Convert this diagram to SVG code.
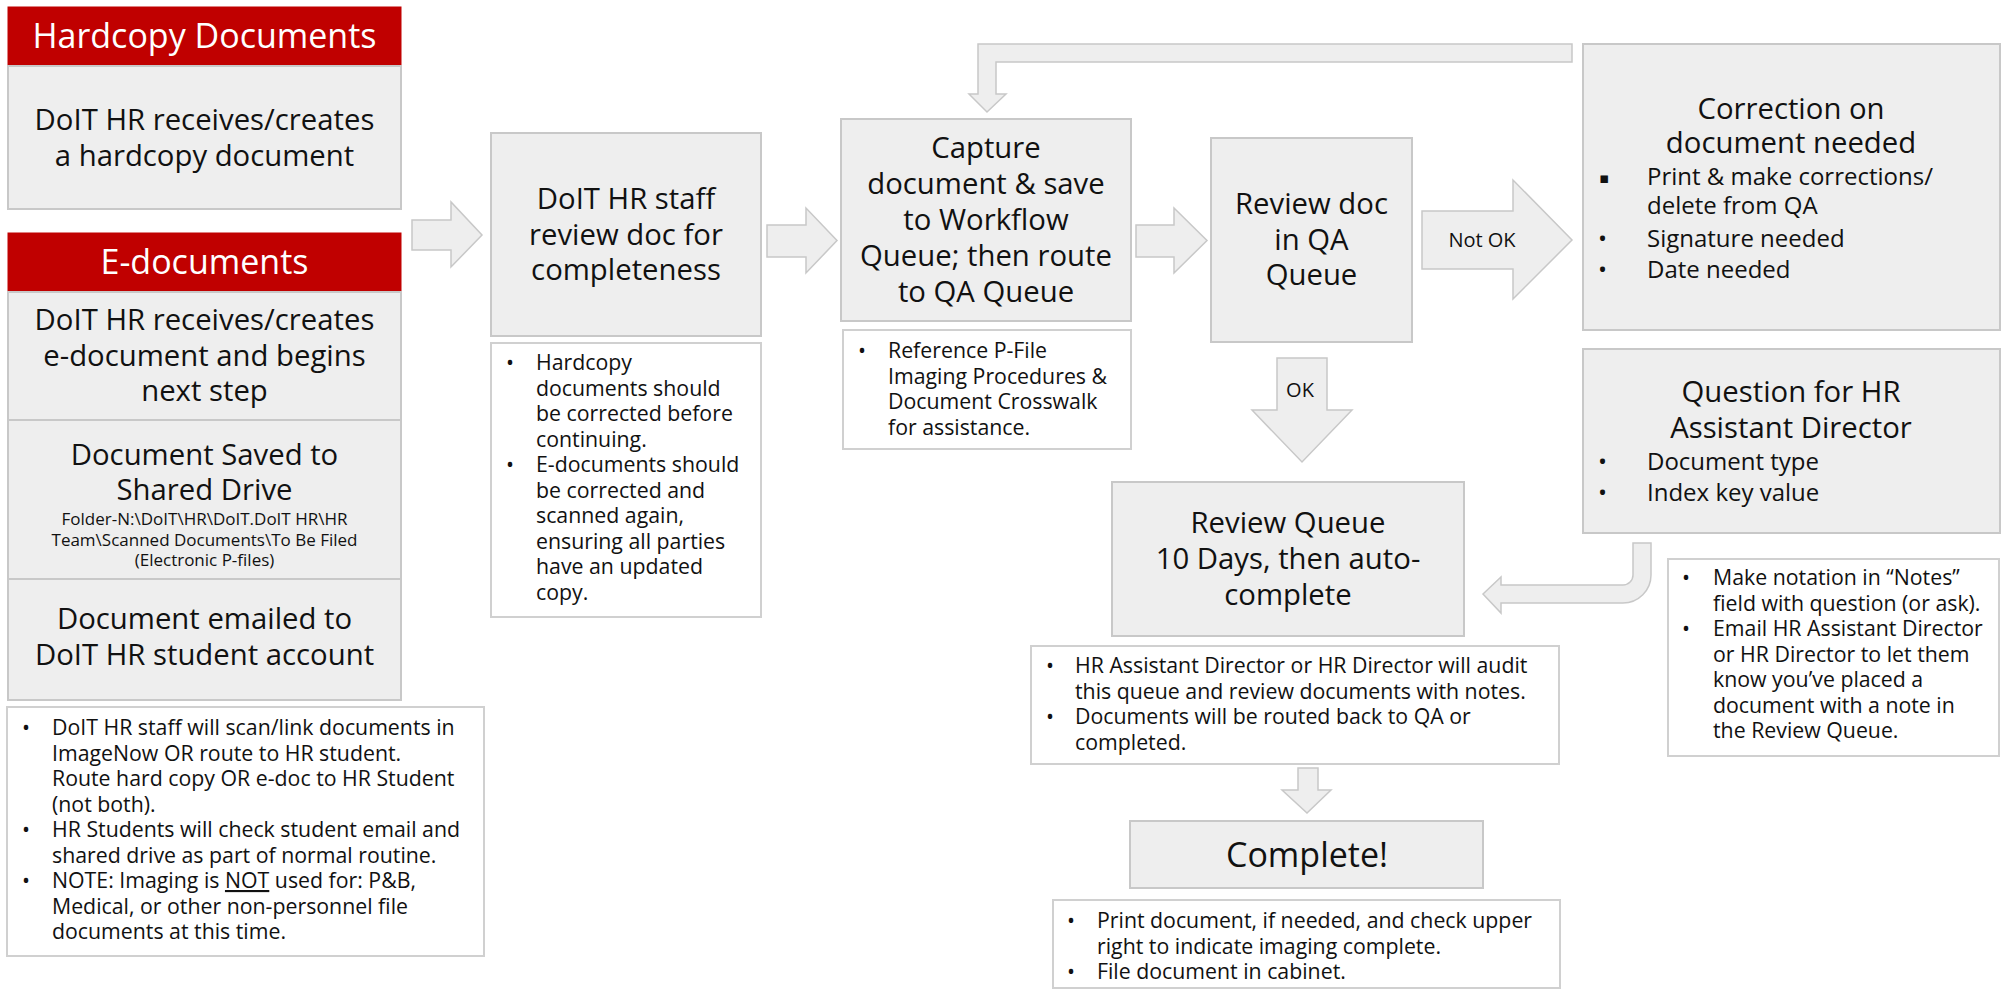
<svg xmlns="http://www.w3.org/2000/svg" width="2007" height="989" viewBox="0 0 2007 989">
<style>
text{font-family:"Open Sans","Noto Sans","DejaVu Sans",sans-serif;fill:#111}
.hdr{fill:#C00000;stroke:#C00000;stroke-width:1}
.box{fill:#EEEEEE;stroke:#C8C8C8;stroke-width:2}
.note{fill:#FFFFFF;stroke:#D0D0D0;stroke-width:2}
.arr{fill:#EEEEEE;stroke:#C8C8C8;stroke-width:1.5;stroke-linejoin:miter}
.ht{font-size:34px;fill:#FFFFFF;text-anchor:middle}
.big{font-size:29.3px;text-anchor:middle}
.xl{font-size:34px;text-anchor:middle}
.sm{font-size:17px;text-anchor:middle}
.nt{font-size:21.3px}
.bl{font-size:24px}
.lbl{font-size:20px;text-anchor:middle}
</style>

<g id="connectors">
  <polygon class="arr" points="412,220 451,220 451,202 482,235 451,267 451,250 412,250"/>
  <polygon class="arr" points="767,225 806,225 806,208 837,240.5 806,273 806,257 767,257"/>
  <polygon class="arr" points="1136,225 1174,225 1174,208 1207,240.5 1174,273 1174,257 1136,257"/>
  <g id="arrow-notok">
    <polygon class="arr" points="1422,211 1513,211 1513,180 1572,240 1513,299 1513,269 1422,269"/>
    <text class="lbl" x="1482" y="247">Not OK</text>
  </g>
  <g id="arrow-ok">
    <polygon class="arr" points="1277,358 1327,358 1327,410 1352,410 1302,462 1252,410 1277,410"/>
    <text class="lbl" x="1300" y="397">OK</text>
  </g>
  <polygon class="arr" points="978,44 1572,44 1572,62 996,62 996,94 1006,94 987,112 969,94 978,94"/>
  <path class="arr" d="M1633,543 L1651,543 L1651,575 A28,28 0 0 1 1623,603 L1501,603 L1501,613 L1483,594 L1501,577 L1501,585 L1623,585 A10,10 0 0 0 1633,575 Z"/>
  <polygon class="arr" points="1298,768 1318,768 1318,790 1331,790 1307,813 1282,790 1298,790"/>
</g>

<g id="hardcopy">
  <rect class="hdr" x="8" y="7" width="393" height="59"/>
  <text class="ht" x="204.5" y="48">Hardcopy Documents</text>
  <rect class="box" x="8" y="66" width="393" height="143"/>
  <text class="big" x="204.5" y="130">DoIT HR receives/creates</text>
  <text class="big" x="204.5" y="166">a hardcopy document</text>
</g>

<g id="edocuments">
  <rect class="hdr" x="8" y="233" width="393" height="59"/>
  <text class="ht" x="204.5" y="274">E-documents</text>
  <rect class="box" x="8" y="292" width="393" height="128"/>
  <text class="big" x="204.5" y="330">DoIT HR receives/creates</text>
  <text class="big" x="204.5" y="366">e-document and begins</text>
  <text class="big" x="204.5" y="401">next step</text>
  <rect class="box" x="8" y="420" width="393" height="159"/>
  <text class="big" x="204.5" y="465">Document Saved to</text>
  <text class="big" x="204.5" y="500">Shared Drive</text>
  <text class="sm" x="204.5" y="525">Folder-N:\DoIT\HR\DoIT.DoIT HR\HR</text>
  <text class="sm" x="204.5" y="546">Team\Scanned Documents\To Be Filed</text>
  <text class="sm" x="204.5" y="566">(Electronic P-files)</text>
  <rect class="box" x="8" y="579" width="393" height="121"/>
  <text class="big" x="204.5" y="629">Document emailed to</text>
  <text class="big" x="204.5" y="665">DoIT HR student account</text>
</g>

<g id="left-notes">
  <rect class="note" x="7" y="707" width="477" height="249"/>
  <text class="nt"><tspan x="22" y="735">•</tspan><tspan x="52" y="735">DoIT HR staff will scan/link documents in</tspan><tspan x="52" y="760.5">ImageNow OR route to HR student.</tspan><tspan x="52" y="786">Route hard copy OR e-doc to HR Student</tspan><tspan x="52" y="811.5">(not both).</tspan></text>
  <text class="nt"><tspan x="22" y="837">•</tspan><tspan x="52" y="837">HR Students will check student email and</tspan><tspan x="52" y="862.5">shared drive as part of normal routine.</tspan></text>
  <text class="nt"><tspan x="22" y="888">•</tspan><tspan x="52" y="888">NOTE: Imaging is <tspan text-decoration="underline">NOT</tspan> used for: P&amp;B,</tspan><tspan x="52" y="913.5">Medical, or other non-personnel file</tspan><tspan x="52" y="939">documents at this time.</tspan></text>
</g>

<g id="staff-review">
  <rect class="box" x="491" y="133" width="270" height="203"/>
  <text class="big" x="626" y="209">DoIT HR staff</text>
  <text class="big" x="626" y="245">review doc for</text>
  <text class="big" x="626" y="280">completeness</text>
</g>
<g id="staff-notes">
  <rect class="note" x="491" y="343" width="270" height="274"/>
  <text class="nt"><tspan x="506" y="370">•</tspan><tspan x="536" y="370">Hardcopy</tspan><tspan x="536" y="395.5">documents should</tspan><tspan x="536" y="421">be corrected before</tspan><tspan x="536" y="446.5">continuing.</tspan></text>
  <text class="nt"><tspan x="506" y="472">•</tspan><tspan x="536" y="472">E-documents should</tspan><tspan x="536" y="497.5">be corrected and</tspan><tspan x="536" y="523">scanned again,</tspan><tspan x="536" y="548.5">ensuring all parties</tspan><tspan x="536" y="574">have an updated</tspan><tspan x="536" y="599.5">copy.</tspan></text>
</g>

<g id="capture">
  <rect class="box" x="841" y="119" width="290" height="202"/>
  <text class="big" x="986" y="158">Capture</text>
  <text class="big" x="986" y="194">document &amp; save</text>
  <text class="big" x="986" y="230">to Workflow</text>
  <text class="big" x="986" y="266">Queue; then route</text>
  <text class="big" x="986" y="302">to QA Queue</text>
</g>
<g id="capture-notes">
  <rect class="note" x="843" y="330" width="288" height="119"/>
  <text class="nt"><tspan x="858" y="358">•</tspan><tspan x="888" y="358">Reference P-File</tspan><tspan x="888" y="383.5">Imaging Procedures &amp;</tspan><tspan x="888" y="409">Document Crosswalk</tspan><tspan x="888" y="434.5">for assistance.</tspan></text>
</g>

<g id="review-qa">
  <rect class="box" x="1211" y="138" width="201" height="204"/>
  <text class="big" x="1311.5" y="214">Review doc</text>
  <text class="big" x="1311.5" y="250">in QA</text>
  <text class="big" x="1311.5" y="285">Queue</text>
</g>

<g id="correction">
  <rect class="box" x="1583" y="44" width="417" height="286"/>
  <text class="big" x="1791" y="119">Correction on</text>
  <text class="big" x="1791" y="153">document needed</text>
  <text class="bl"><tspan x="1599" y="183" font-size="15px">▪</tspan><tspan x="1647" y="185">Print &amp; make corrections/</tspan><tspan x="1647" y="214">delete from QA</tspan></text>
  <text class="bl"><tspan x="1598" y="247">•</tspan><tspan x="1647" y="247">Signature needed</tspan></text>
  <text class="bl"><tspan x="1598" y="278">•</tspan><tspan x="1647" y="278">Date needed</tspan></text>
</g>

<g id="question">
  <rect class="box" x="1583" y="349" width="417" height="184"/>
  <text class="big" x="1791" y="402">Question for HR</text>
  <text class="big" x="1791" y="438">Assistant Director</text>
  <text class="bl"><tspan x="1598" y="470">•</tspan><tspan x="1647" y="470">Document type</tspan></text>
  <text class="bl"><tspan x="1598" y="501">•</tspan><tspan x="1647" y="501">Index key value</tspan></text>
</g>

<g id="question-notes">
  <rect class="note" x="1668" y="559" width="331" height="197"/>
  <text class="nt"><tspan x="1682" y="585">•</tspan><tspan x="1713" y="585">Make notation in “Notes”</tspan><tspan x="1713" y="610.5">field with question (or ask).</tspan></text>
  <text class="nt"><tspan x="1682" y="636">•</tspan><tspan x="1713" y="636">Email HR Assistant Director</tspan><tspan x="1713" y="661.5">or HR Director to let them</tspan><tspan x="1713" y="687">know you’ve placed a</tspan><tspan x="1713" y="712.5">document with a note in</tspan><tspan x="1713" y="738">the Review Queue.</tspan></text>
</g>

<g id="review-queue">
  <rect class="box" x="1112" y="482" width="352" height="154"/>
  <text class="big" x="1288" y="533">Review Queue</text>
  <text class="big" x="1288" y="569">10 Days, then auto-</text>
  <text class="big" x="1288" y="605">complete</text>
</g>
<g id="review-queue-notes">
  <rect class="note" x="1031" y="646" width="528" height="118"/>
  <text class="nt"><tspan x="1046" y="673">•</tspan><tspan x="1075" y="673">HR Assistant Director or HR Director will audit</tspan><tspan x="1075" y="698.5">this queue and review documents with notes.</tspan></text>
  <text class="nt"><tspan x="1046" y="724">•</tspan><tspan x="1075" y="724">Documents will be routed back to QA or</tspan><tspan x="1075" y="749.5">completed.</tspan></text>
</g>

<g id="complete">
  <rect class="box" x="1130" y="821" width="353" height="67"/>
  <text class="xl" x="1307" y="867">Complete!</text>
</g>
<g id="complete-notes">
  <rect class="note" x="1053" y="900" width="507" height="88"/>
  <text class="nt"><tspan x="1067" y="928">•</tspan><tspan x="1097" y="928">Print document, if needed, and check upper</tspan><tspan x="1097" y="953.5">right to indicate imaging complete.</tspan></text>
  <text class="nt"><tspan x="1067" y="979">•</tspan><tspan x="1097" y="979">File document in cabinet.</tspan></text>
</g>
</svg>
